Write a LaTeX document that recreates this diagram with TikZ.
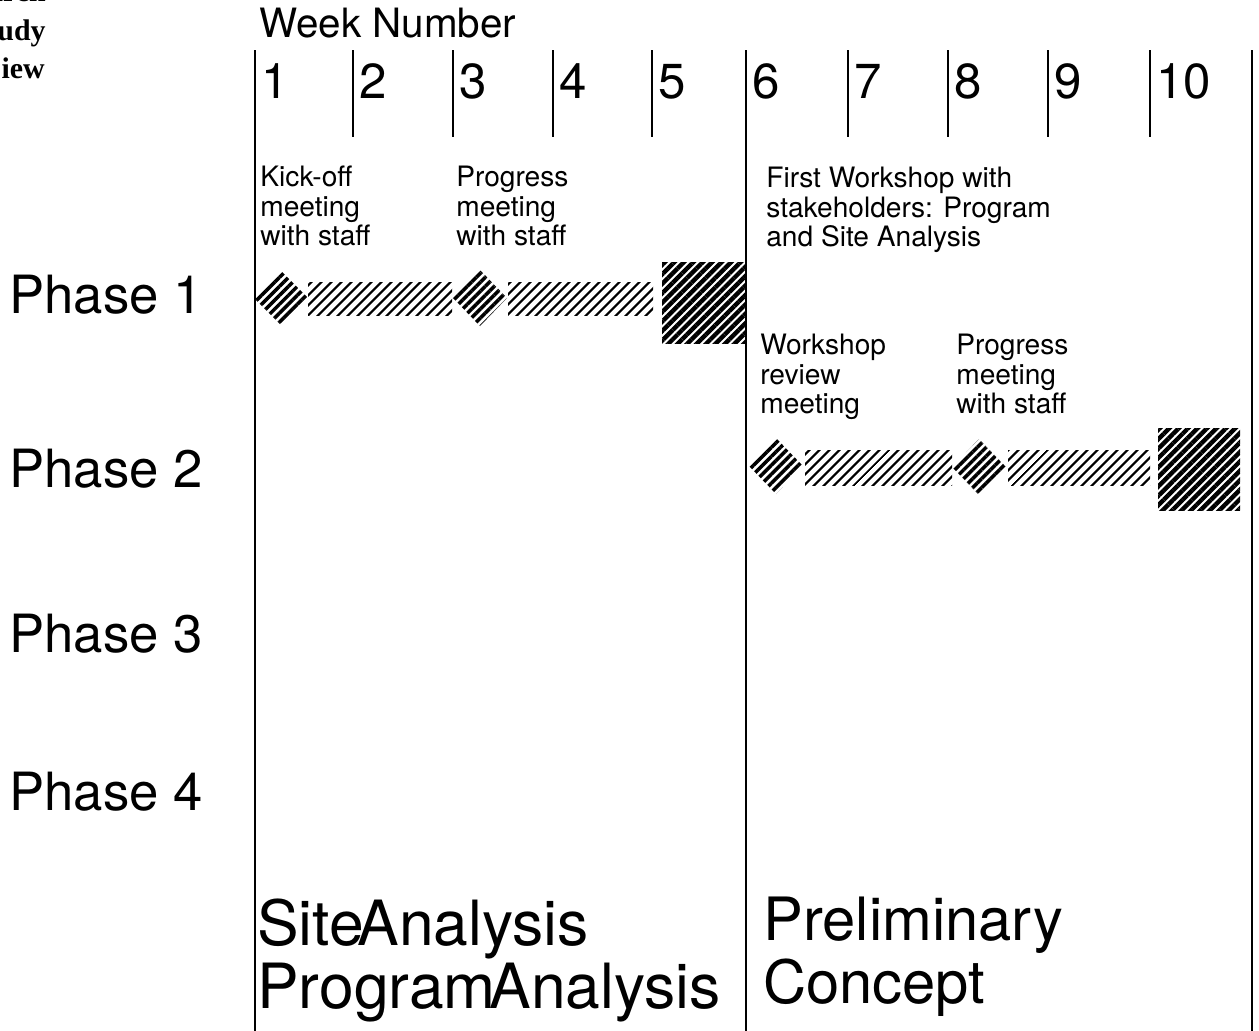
\documentclass[tikz,border=0pt]{standalone}
\usepackage{fontspec}
\setmainfont{TeX Gyre Heros}
\newfontfamily\headserif{Liberation Serif}
\usetikzlibrary{patterns.meta}

\tikzset{
	grid line/.style={line width=1.5pt},
	phase/.style={anchor=base west,inner sep=0pt,font=\fontsize{30}{30}\selectfont},
	week/.style={anchor=base west,inner sep=0pt,font=\fontsize{28}{28}\selectfont},
	event/.style={anchor=north west,inner sep=0pt,align=left,font=\fontsize{16}{16.6}\selectfont},
	stage/.style={anchor=base west,inner sep=0pt,align=left,font=\fontsize{34}{35.7}\selectfont},
	cutoff/.style={anchor=base east,inner sep=0pt,font=\headserif\bfseries\fontsize{17}{17}\selectfont},
	milestone/.style={pattern={Lines[angle=45,distance=3.6pt,line width=2pt]}},
	taskbar/.style={pattern={Lines[angle=45,distance=4pt,line width=1.3pt]}},
	deliverable/.style={pattern={Lines[angle=45,distance=3.8pt,line width=2.5pt]}}
}

\begin{document}
\begin{tikzpicture}[x=0.02cm,y=-0.02cm]
	\useasboundingbox (0,0) rectangle (1259,1031);
	
	% cut-off heading at the left edge
	\node[cutoff] (h1) at (46,2) {arch};
	\node[cutoff] (h2) at (46,40) {udy};
	\node[cutoff] (h3) at (45,78) {iew};
	
	% week grid
	\node[anchor=base west,inner sep=0pt,font=\fontsize{23}{23}\selectfont] (wk) at (259,37) {Week Number};
	\foreach \x in {255,746,1252}{
		\draw[grid line] (\x,50)--(\x,1031);
	}
	\foreach \x in {353,453,553,652,848,948,1048,1150}{
		\draw[grid line] (\x,50)--(\x,137);
	}
	\foreach \x/\n in {255/1,353/2,453/3,553/4,652/5,746/6,848/7,948/8,1048/9,1150/10}{
		\node[week] (w\n) at (\x+6,98) {\n};
	}
	
	% phases
	\node[phase] (p1) at (9,313) {Phase 1};
	\node[phase] (p2) at (9,487) {Phase 2};
	\node[phase] (p3) at (9,652) {Phase 3};
	\node[phase] (p4) at (9,810) {Phase 4};
	
	% phase 1 schedule
	\path[milestone] (281,271)--(308,298)--(281,325)--(254,298)--cycle;
	\path[taskbar] (308,282) rectangle (452,315);
	\path[milestone] (480,270)--(507,298)--(480,326)--(453,298)--cycle;
	\path[taskbar] (508,282) rectangle (653,315);
	\path[deliverable] (662,262) rectangle (745,343);
	
	% phase 2 schedule
	\path[milestone] (776,438)--(803,466)--(776,494)--(749,466)--cycle;
	\path[taskbar] (805,450) rectangle (952,485);
	\path[milestone] (979,439)--(1006,467)--(979,495)--(952,467)--cycle;
	\path[taskbar] (1008,450) rectangle (1150,485);
	\path[deliverable] (1158,428) rectangle (1240,510);
	
	% events
	\node[event] (kick) at (260,166) {Kick-off\\meeting\\with staff};
	\node[event] (prog1) at (456,166) {Progress\\meeting\\with staff};
	\node[event] (shop1) at (766,167) {First Workshop with\\stakeholders: Program\\and Site Analysis};
	\node[event] (review) at (760,334) {Workshop\\review\\meeting};
	\node[event] (prog2) at (956,334) {Progress\\meeting\\with staff};
	
	% stages
	\node[stage,font=\fontsize{35.5}{35.7}\selectfont] (site) at (257,1008) {Site\kern-.1em Analysis\\Program\kern-.1em Analysis};
	\node[stage] (concept) at (763,1003) {Preliminary\\Concept};
\end{tikzpicture}
\end{document}
